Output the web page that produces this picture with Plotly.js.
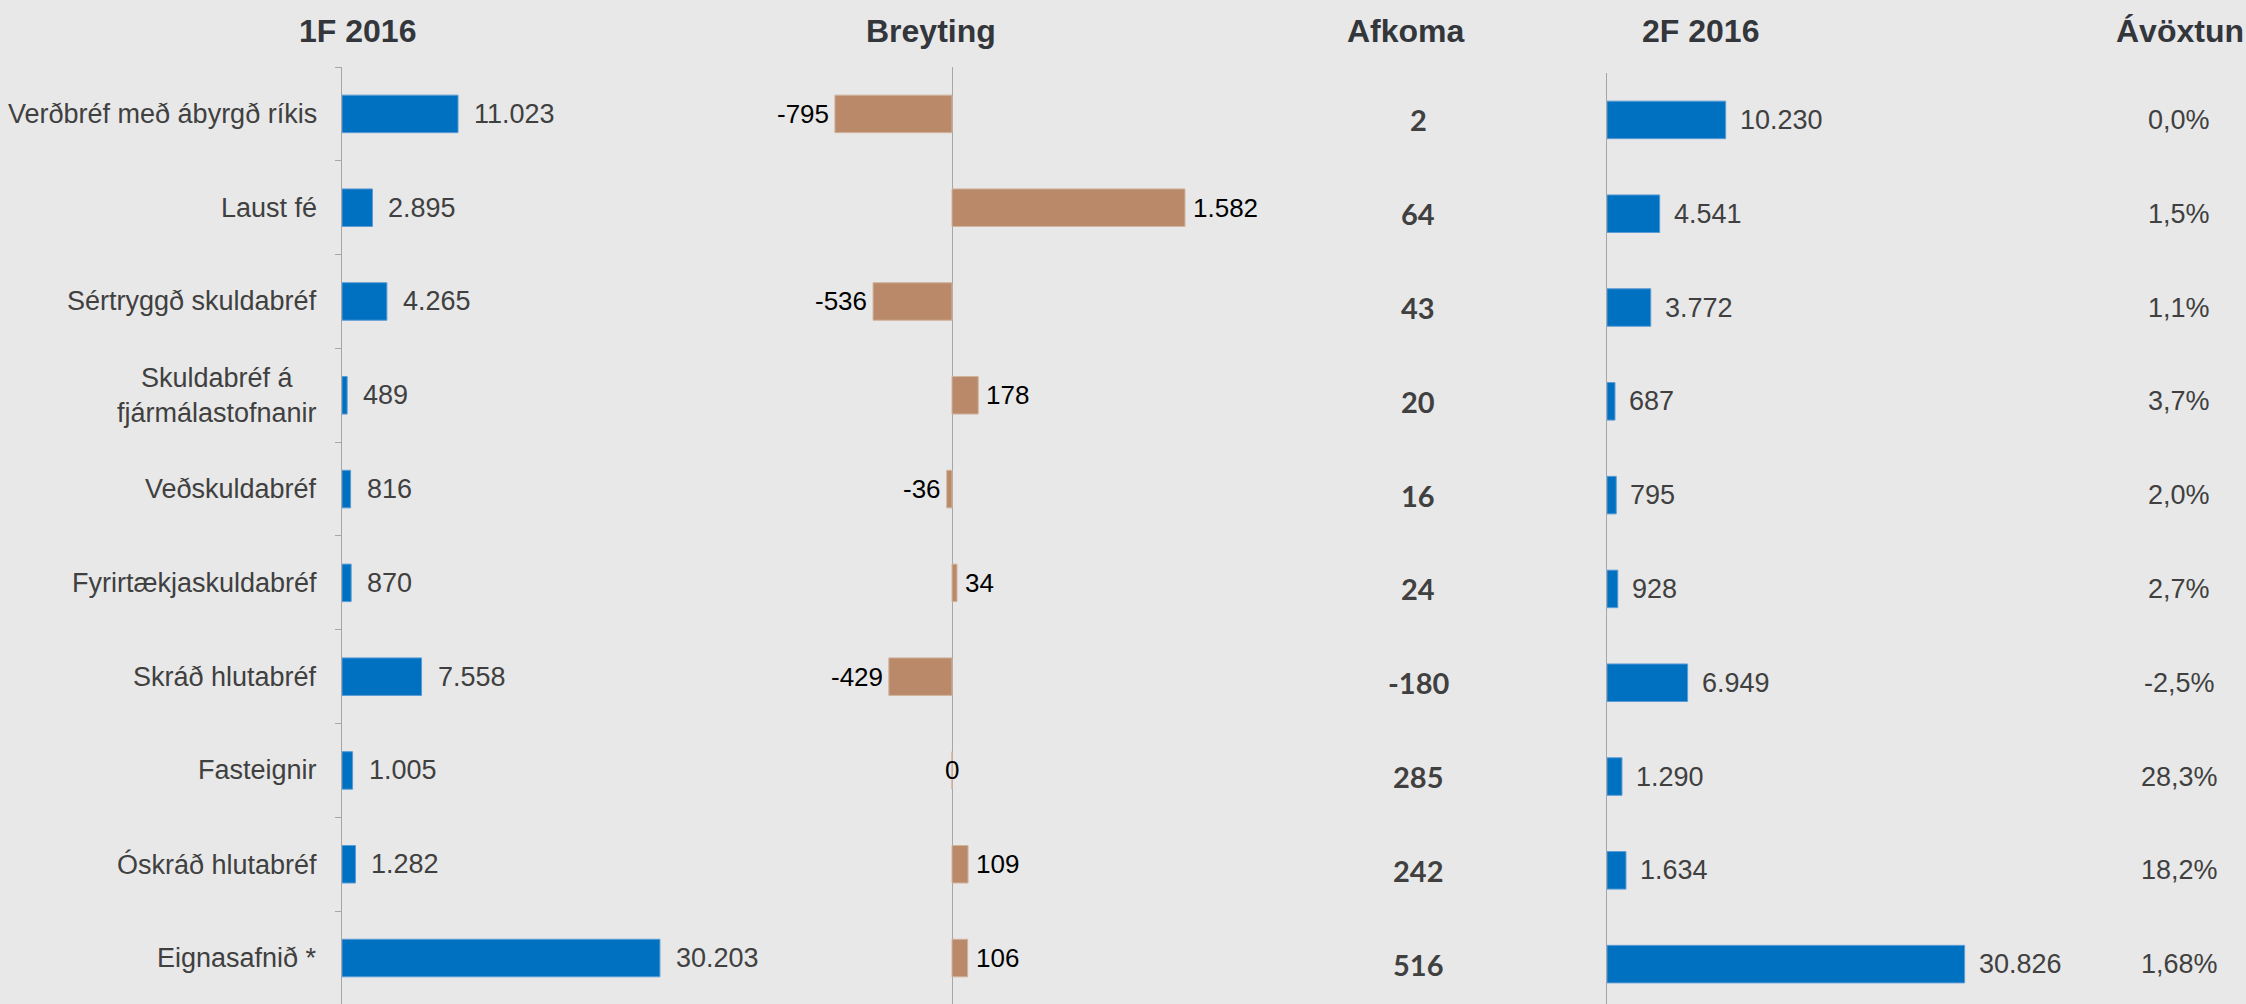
<!DOCTYPE html>
<html>
<head>
<meta charset="utf-8">
<script src="https://cdn.plot.ly/plotly-3.0.1.min.js"></script>
<style>
  html, body { margin: 0; padding: 0; background: #e8e8e8; }
  #chart { width: 2246px; height: 1004px; }
</style>
</head>
<body>
<div id="chart"></div>
<script>
// ---------- data ----------
const categories = [
  "Verðbréf með ábyrgð ríkis",
  "Laust fé",
  "Sértryggð skuldabréf",
  "Skuldabréf á<br>fjármálastofnanir",
  "Veðskuldabréf",
  "Fyrirtækjaskuldabréf",
  "Skráð hlutabréf",
  "Fasteignir",
  "Óskráð hlutabréf",
  "Eignasafnið *"
];
const q1Values = [11023, 2895, 4265, 489, 816, 870, 7558, 1005, 1282, 30203];
const changeValues = [-795, 1582, -536, 178, -36, 34, -429, 0, 109, 106];
const resultValues = [2, 64, 43, 20, 16, 24, -180, 285, 242, 516];
const q2Values = [10230, 4541, 3772, 687, 795, 928, 6949, 1290, 1634, 30826];
const returnLabels = ["0,0%", "1,5%", "1,1%", "3,7%", "2,0%", "2,7%", "-2,5%", "28,3%", "18,2%", "1,68%"];
const headers = ["1F 2016", "Breyting", "Afkoma", "2F 2016", "Ávöxtun"];

// ---------- layout settings ----------
const W = 2246, H = 1004;
const px = v => v / W;
const py = v => 1 - v / H;
const headerX = [357, 931, 1406, 1700, 2180];
const headerY = 31;

const BLUE = "#0070c0";
const TAN = "#b9896a";
const GRAY_TXT = "#404040";
const AXIS = "#a6a6a6";
const FONT = "'Liberation Sans', Arial, sans-serif";

function fmt(n) {
  const s = String(Math.abs(n)).replace(/\B(?=(\d{3})+(?!\d))/g, ".");
  return (n < 0 ? "-" : "") + s;
}

const traces = [
  {
    type: "bar", orientation: "h", x: q1Values, y: categories,
    xaxis: "x", yaxis: "y", width: 0.4,
    marker: { color: BLUE, line: { color: "#5b9bd5", width: 1 } },
    hoverinfo: "skip"
  },
  {
    type: "bar", orientation: "h", x: changeValues, y: categories,
    xaxis: "x2", yaxis: "y2", width: 0.4,
    marker: { color: TAN, line: { color: "#d2b39c", width: 1 } },
    hoverinfo: "skip"
  },
  {
    type: "bar", orientation: "h", x: q2Values, y: categories,
    xaxis: "x3", yaxis: "y3", width: 0.4,
    marker: { color: BLUE, line: { color: "#5b9bd5", width: 1 } },
    hoverinfo: "skip"
  }
];

const annotations = [];

// headers
headers.forEach((h, i) => {
  annotations.push({
    xref: "paper", yref: "paper", x: px(headerX[i]), y: py(headerY),
    xanchor: "center", yanchor: "middle", showarrow: false, text: "<b>" + h + "</b>",
    font: { family: FONT, size: 32, color: "#33363b" }
  });
});

// category labels
categories.forEach((c) => {
  annotations.push({
    xref: "paper", yref: "y", x: px(319), y: c,
    xanchor: "right", yanchor: "middle", align: "center", showarrow: false, text: c,
    font: { family: FONT, size: 27, color: GRAY_TXT }
  });
});

// value labels panel 1
q1Values.forEach((v, i) => {
  annotations.push({
    xref: "x", yref: "y", x: v, y: categories[i], xanchor: "left", yanchor: "middle",
    xshift: 14, showarrow: false, text: fmt(v),
    font: { family: FONT, size: 27, color: GRAY_TXT }
  });
});

// value labels panel 2
changeValues.forEach((v, i) => {
  annotations.push({
    xref: "x2", yref: "y2", x: v, y: categories[i],
    xanchor: v < 0 ? "right" : (v > 0 ? "left" : "center"),
    xshift: v < 0 ? -4 : (v > 0 ? 6 : 0),
    yanchor: "middle", showarrow: false, text: fmt(v),
    font: { family: FONT, size: 26, color: "#000000" }
  });
});

// Afkoma column
resultValues.forEach((v, i) => {
  annotations.push({
    xref: "paper", yref: "y3", x: px(1418), y: categories[i], xanchor: "center", yanchor: "middle",
    showarrow: false, text: "<b>" + fmt(v) + "</b>",
    font: { family: "Lato, 'Open Sans', sans-serif", size: 29, color: GRAY_TXT }
  });
});

// value labels panel 3
q2Values.forEach((v, i) => {
  annotations.push({
    xref: "x3", yref: "y3", x: v, y: categories[i], xanchor: "left", yanchor: "middle",
    xshift: 12, showarrow: false, text: fmt(v),
    font: { family: FONT, size: 27, color: GRAY_TXT }
  });
});

// Ávöxtun column
returnLabels.forEach((r, i) => {
  annotations.push({
    xref: "paper", yref: "y3", x: px(2179), y: categories[i], xanchor: "center", yanchor: "middle",
    showarrow: false, text: r,
    font: { family: FONT, size: 27, color: GRAY_TXT }
  });
});

const hiddenX = { showgrid: false, zeroline: false, showticklabels: false, ticks: "", showline: false, fixedrange: true };

const layout = {
  width: W, height: H,
  margin: { l: 0, r: 0, t: 0, b: 0, pad: 0 },
  paper_bgcolor: "#e8e8e8",
  plot_bgcolor: "rgba(0,0,0,0)",
  showlegend: false,
  font: { family: FONT, color: GRAY_TXT },
  xaxis: Object.assign({}, hiddenX, { domain: [px(342), px(782)], range: [0, 440 * 95], anchor: "y" }),
  xaxis2: Object.assign({}, hiddenX, {
    domain: [px(800), px(1250)], range: [-152 * 6.79, 298 * 6.79], anchor: "y2",
    zeroline: true, zerolinecolor: AXIS, zerolinewidth: 1
  }),
  xaxis3: Object.assign({}, hiddenX, { domain: [px(1607), px(2100)], range: [0, 493 * 86.2], anchor: "y3" }),
  yaxis: {
    domain: [0, py(67)], range: [9.49, -0.5], type: "category", anchor: "x",
    showgrid: false, zeroline: false, showticklabels: false,
    showline: true, linecolor: AXIS, linewidth: 1,
    ticks: "outside", tickson: "boundaries", ticklen: 6, tickcolor: AXIS, tickwidth: 1,
    fixedrange: true
  },
  yaxis2: {
    domain: [0, py(67)], range: [9.49, -0.5], type: "category", anchor: "x2",
    showgrid: false, zeroline: false, showticklabels: false, showline: false, ticks: "",
    fixedrange: true
  },
  yaxis3: {
    domain: [0, py(73)], range: [9.425, -0.5], type: "category", anchor: "x3",
    showgrid: false, zeroline: false, showticklabels: false,
    showline: true, linecolor: AXIS, linewidth: 1, ticks: "",
    fixedrange: true
  },
  annotations: annotations
};

Plotly.newPlot("chart", traces, layout, { displayModeBar: false, staticPlot: true });
</script>
</body>
</html>
